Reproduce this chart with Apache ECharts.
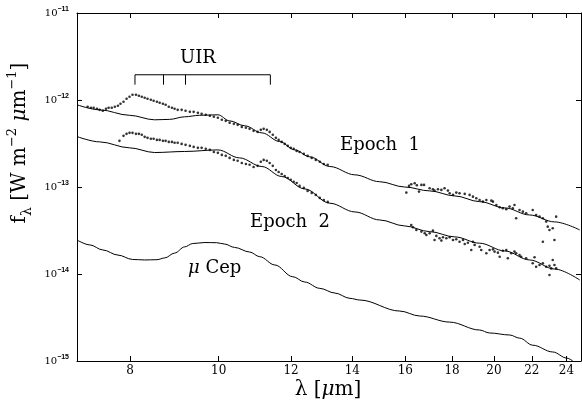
<!DOCTYPE html>
<html>
<head>
<meta charset="utf-8">
<script src="https://cdn.jsdelivr.net/npm/echarts@6.0.0/dist/echarts.min.js"></script>
<style>
  html, body { margin: 0; padding: 0; background: #fff; }
  #chart { width: 582px; height: 400px; }
</style>
</head>
<body>
<div id="chart"></div>
<script>
// wavelength [um] / flux [W m-2 um-1]
const xTicks = [8, 10, 12, 14, 16, 18, 20, 22, 24]
const yDecades = [1e-15, 1e-14, 1e-13, 1e-12, 1e-11]

const epoch1Model = [
  [7.0, 8.81e-13], [7.41, 7.71e-13], [7.99, 6.67e-13], [8.51, 5.92e-13], [8.84, 5.99e-13],
  [9.18, 6.41e-13], [9.53, 6.67e-13], [9.98, 6.76e-13], [10.28, 5.76e-13], [10.68, 5.05e-13],
  [11.15, 4.19e-13], [11.66, 3.33e-13], [12.11, 2.67e-13], [12.58, 2.22e-13], [13.23, 1.72e-13],
  [14.09, 1.38e-13], [15.0, 1.15e-13], [15.97, 1.00e-13], [17.01, 9.02e-14], [18.12, 7.90e-14],
  [19.29, 6.79e-14], [20.55, 5.75e-14], [21.88, 4.77e-14], [23.3, 3.97e-14], [24.82, 3.21e-14]
]

const epoch2Model = [
  [7.0, 3.80e-13], [7.41, 3.30e-13], [7.99, 2.82e-13], [8.51, 2.49e-13], [9.18, 2.56e-13],
  [9.98, 2.67e-13], [10.54, 2.16e-13], [11.15, 1.72e-13], [11.72, 1.32e-13], [12.42, 9.51e-14],
  [13.23, 6.51e-14], [14.09, 5.17e-14], [15.0, 4.18e-14], [15.97, 3.57e-14], [17.01, 3.07e-14],
  [18.12, 2.67e-14], [19.29, 2.26e-14], [20.55, 1.84e-14], [21.88, 1.45e-14], [23.3, 1.14e-14],
  [24.82, 8.53e-15]
]

const muCep = [
  [7.0, 2.46e-14], [7.23, 2.16e-14], [7.47, 1.89e-14], [7.76, 1.65e-14], [8.05, 1.47e-14],
  [8.30, 1.45e-14], [8.56, 1.46e-14], [8.73, 1.53e-14], [8.95, 1.74e-14], [9.18, 2.05e-14],
  [9.37, 2.24e-14], [9.66, 2.30e-14], [9.95, 2.29e-14], [10.15, 2.21e-14], [10.41, 2.02e-14],
  [10.81, 1.79e-14], [11.09, 1.58e-14], [11.52, 1.27e-14], [12.05, 9.31e-15], [12.42, 8.09e-15],
  [12.90, 6.84e-15], [13.40, 6.04e-15], [13.92, 5.25e-15], [14.27, 5.02e-15], [15.78, 3.75e-15],
  [16.59, 3.29e-15], [17.89, 2.80e-15], [19.29, 2.27e-15], [19.78, 2.10e-15], [20.81, 1.99e-15],
  [21.34, 1.83e-15], [22.05, 1.52e-15], [23.19, 1.27e-15], [24.03, 1.08e-15], [24.39, 1.0e-15]
]

const epoch1Short = [
  [7.19, 8.35e-13], [7.25, 8.13e-13], [7.30, 8.13e-13], [7.36, 7.92e-13], [7.41, 7.71e-13],
  [7.47, 7.51e-13], [7.53, 7.92e-13], [7.58, 8.13e-13], [7.64, 8.13e-13], [7.70, 8.35e-13],
  [7.76, 8.58e-13], [7.81, 9.04e-13], [7.87, 9.53e-13], [7.93, 1.032e-12], [7.99, 1.088e-12],
  [8.05, 1.148e-12], [8.12, 1.148e-12], [8.18, 1.118e-12], [8.24, 1.088e-12], [8.30, 1.060e-12],
  [8.36, 1.032e-12], [8.43, 1.005e-12], [8.49, 9.79e-13], [8.56, 9.53e-13], [8.62, 9.28e-13],
  [8.69, 9.04e-13], [8.75, 8.81e-13], [8.82, 8.35e-13], [8.89, 8.13e-13], [8.95, 7.92e-13],
  [9.02, 7.71e-13], [9.11, 7.71e-13], [9.20, 7.51e-13], [9.30, 7.31e-13], [9.39, 7.31e-13],
  [9.49, 7.12e-13], [9.58, 6.94e-13], [9.68, 6.76e-13], [9.78, 6.58e-13], [9.88, 6.41e-13],
  [9.98, 6.24e-13], [10.08, 5.92e-13], [10.18, 5.76e-13], [10.28, 5.47e-13], [10.39, 5.32e-13],
  [10.49, 5.18e-13], [10.60, 4.91e-13], [10.71, 4.79e-13], [10.81, 4.66e-13], [10.92, 4.42e-13],
  [11.03, 4.30e-13], [11.12, 4.54e-13], [11.20, 4.66e-13], [11.29, 4.54e-13], [11.37, 4.30e-13],
  [11.46, 3.98e-13], [11.55, 3.67e-13], [11.63, 3.48e-13], [11.72, 3.30e-13], [11.81, 3.13e-13],
  [11.90, 2.97e-13], [11.99, 2.82e-13], [12.08, 2.75e-13], [12.17, 2.60e-13], [12.26, 2.53e-13],
  [12.39, 2.40e-13], [12.51, 2.28e-13], [12.64, 2.16e-13], [12.77, 2.05e-13], [12.90, 1.95e-13],
  [13.03, 1.84e-13], [13.16, 1.80e-13]
]

const epoch1Long = [
  [16.04, 8.62e-14], [16.15, 1.030e-13], [16.24, 1.077e-13], [16.38, 1.106e-13], [16.47, 1.049e-13],
  [16.56, 8.85e-14], [16.66, 1.057e-13], [16.77, 1.057e-13], [17.01, 9.69e-14], [17.15, 9.43e-14],
  [17.22, 9.09e-14], [17.37, 9.43e-14], [17.52, 9.26e-14], [17.66, 9.69e-14], [17.81, 9.09e-14],
  [17.89, 8.49e-14], [18.04, 8.11e-14], [18.19, 8.62e-14], [18.34, 8.49e-14], [18.58, 8.33e-14],
  [18.81, 8.11e-14], [18.97, 7.75e-14], [19.13, 7.43e-14], [19.29, 7.10e-14], [19.45, 6.79e-14],
  [19.62, 7.10e-14], [19.87, 6.97e-14], [19.95, 6.79e-14], [20.12, 6.22e-14], [20.29, 5.86e-14],
  [20.45, 5.70e-14], [20.63, 5.55e-14], [20.80, 5.95e-14], [20.97, 5.70e-14], [21.06, 6.22e-14],
  [21.15, 4.38e-14], [21.33, 5.45e-14], [21.51, 5.21e-14], [21.69, 4.99e-14], [22.05, 5.45e-14],
  [22.24, 4.77e-14], [22.43, 4.56e-14], [22.62, 4.38e-14], [22.81, 4.00e-14], [22.90, 3.50e-14],
  [23.00, 3.21e-14], [23.19, 3.36e-14], [23.39, 4.56e-14], [22.62, 2.35e-14], [23.29, 2.46e-14]
]

const epoch2Short = [
  [7.79, 3.39e-13], [7.87, 3.87e-13], [7.93, 4.08e-13], [7.99, 4.19e-13], [8.05, 4.19e-13],
  [8.12, 4.08e-13], [8.18, 4.08e-13], [8.24, 3.98e-13], [8.30, 3.77e-13], [8.36, 3.67e-13],
  [8.43, 3.58e-13], [8.49, 3.58e-13], [8.56, 3.48e-13], [8.62, 3.48e-13], [8.69, 3.39e-13],
  [8.75, 3.39e-13], [8.82, 3.30e-13], [8.89, 3.30e-13], [8.95, 3.22e-13], [9.02, 3.22e-13],
  [9.11, 3.13e-13], [9.20, 3.05e-13], [9.30, 2.97e-13], [9.39, 2.89e-13], [9.49, 2.82e-13],
  [9.58, 2.82e-13], [9.68, 2.75e-13], [9.78, 2.67e-13], [9.88, 2.53e-13], [9.98, 2.47e-13],
  [10.08, 2.34e-13], [10.18, 2.28e-13], [10.28, 2.16e-13], [10.39, 2.05e-13], [10.49, 2.00e-13],
  [10.60, 1.89e-13], [10.71, 1.84e-13], [10.81, 1.80e-13], [10.92, 1.70e-13], [11.03, 1.75e-13],
  [11.12, 1.95e-13], [11.20, 2.05e-13], [11.29, 2.00e-13], [11.37, 1.89e-13], [11.46, 1.75e-13],
  [11.55, 1.57e-13], [11.63, 1.49e-13], [11.72, 1.41e-13], [11.81, 1.34e-13], [11.90, 1.27e-13],
  [11.99, 1.21e-13], [12.08, 1.15e-13], [12.17, 1.11e-13], [12.26, 1.03e-13], [12.39, 9.76e-14],
  [12.51, 9.02e-14], [12.64, 8.55e-14], [12.77, 8.11e-14], [12.90, 7.49e-14], [13.03, 7.10e-14],
  [13.16, 6.74e-14]
]

const epoch2Long = [
  [16.24, 3.66e-14], [16.31, 3.45e-14], [16.45, 3.21e-14], [16.66, 3.07e-14], [16.80, 2.94e-14],
  [16.87, 2.81e-14], [17.01, 2.94e-14], [17.15, 3.15e-14], [17.22, 2.46e-14], [17.30, 2.74e-14],
  [17.44, 2.58e-14], [17.52, 2.42e-14], [17.59, 2.64e-14], [17.74, 2.58e-14], [17.89, 2.64e-14],
  [18.04, 2.46e-14], [18.19, 2.51e-14], [18.34, 2.35e-14], [18.50, 2.46e-14], [18.58, 2.21e-14],
  [18.73, 2.29e-14], [18.89, 1.89e-14], [18.97, 2.35e-14], [19.05, 2.16e-14], [19.29, 2.06e-14],
  [19.37, 1.89e-14], [19.62, 1.73e-14], [19.78, 1.89e-14], [19.95, 1.92e-14], [20.03, 1.81e-14],
  [20.20, 1.76e-14], [20.29, 1.58e-14], [20.45, 1.85e-14], [20.63, 1.89e-14], [20.71, 1.52e-14],
  [20.89, 1.73e-14], [21.06, 1.81e-14], [21.15, 1.73e-14], [21.33, 1.65e-14], [21.42, 1.58e-14],
  [21.69, 1.52e-14], [22.05, 1.33e-14], [22.15, 1.56e-14], [22.24, 1.21e-14], [22.43, 1.27e-14],
  [22.62, 1.33e-14], [22.81, 1.21e-14], [23.00, 1.24e-14], [23.10, 1.16e-14], [23.19, 1.45e-14],
  [23.29, 1.27e-14], [23.39, 1.16e-14], [23.00, 9.74e-15]
]

// UIR bracket: feature wavelengths, bar level, foot level
const uirFeatures = [8.1, 8.69, 9.2, 11.39]
const uirTop = 1.95e-12
const uirFoot = 1.5e-12

const serif = '"DejaVu Serif", "Liberation Serif", serif'

const chart = echarts.init(document.getElementById('chart'))

const lineSeries = (data) => ({
  type: 'line',
  data: data,
  showSymbol: false,
  smooth: 0.35,
  smoothMonotone: 'x',
  silent: true,
  lineStyle: { color: '#000', width: 1 }
})

const dotSeries = (data) => ({
  type: 'scatter',
  data: data,
  symbol: 'circle',
  symbolSize: 2.6,
  silent: true,
  itemStyle: { color: '#000' }
})

const xAxisBase = {
  type: 'log',
  logBase: 10,
  min: 7,
  max: 24.9,
  splitLine: { show: false },
  axisLine: { lineStyle: { color: '#000', width: 1 } },
  axisTick: { inside: true, length: 5, customValues: xTicks, lineStyle: { color: '#000' } }
}

const yAxisBase = {
  type: 'log',
  logBase: 10,
  min: 1e-15,
  max: 1e-11,
  splitLine: { show: false },
  axisLine: { show: true, lineStyle: { color: '#000', width: 1 } },
  axisTick: { show: true, inside: true, length: 5, lineStyle: { color: '#000' } }
}

const option = {
  animation: false,
  backgroundColor: '#fff',
  grid: { left: 77, right: 1, top: 13, bottom: 39 },
  xAxis: [
    Object.assign({}, xAxisBase, {
      position: 'bottom',
      axisLabel: {
        customValues: xTicks,
        margin: 4,
        color: '#000',
        fontFamily: serif,
        fontSize: 12
      }
    }),
    Object.assign({}, xAxisBase, { position: 'top', axisLabel: { show: false } })
  ],
  yAxis: [
    Object.assign({}, yAxisBase, {
      position: 'left',
      axisLabel: {
        margin: 8,
        color: '#000',
        fontFamily: serif,
        formatter: (v) => '10{e|' + String(Math.round(Math.log10(v))).replace('-', '−') + '}',
        rich: {
          e: { fontSize: 7, fontWeight: 'bold', fontFamily: 'Liberation Sans', verticalAlign: 'top', lineHeight: 8 }
        },
        fontSize: 10,
        lineHeight: 14
      }
    }),
    Object.assign({}, yAxisBase, { position: 'right', axisLabel: { show: false } })
  ],
  series: [
    lineSeries(epoch1Model),
    lineSeries(epoch2Model),
    lineSeries(muCep),
    dotSeries(epoch1Short),
    dotSeries(epoch1Long),
    dotSeries(epoch2Short),
    dotSeries(epoch2Long),
    {
      type: 'line',
      silent: true,
      showSymbol: false,
      lineStyle: { color: '#000', width: 1 },
      data: [
        [uirFeatures[0], uirFoot], [uirFeatures[0], uirTop],
        [uirFeatures[3], uirTop], [uirFeatures[3], uirFoot]
      ],
      markLine: {
        silent: true,
        symbol: 'none',
        label: { show: false },
        lineStyle: { color: '#000', width: 1, type: 'solid' },
        data: uirFeatures.slice(1, 3).map((w) => [{ coord: [w, uirTop] }, { coord: [w, uirFoot] }])
      }
    }
  ],
  graphic: [
    { type: 'text', x: 198, y: 58, style: { text: 'UIR', font: '18px ' + serif, fill: '#000', align: 'center', verticalAlign: 'middle' } },
    { type: 'text', x: 340, y: 145, style: { text: 'Epoch  1', font: '18px ' + serif, fill: '#000', align: 'left', verticalAlign: 'middle' } },
    { type: 'text', x: 250, y: 222, style: { text: 'Epoch  2', font: '18px ' + serif, fill: '#000', align: 'left', verticalAlign: 'middle' } },
    {
      type: 'text', x: 188, y: 268,
      style: {
        text: '{i|μ} Cep', align: 'left', verticalAlign: 'middle', fill: '#000',
        font: '18px ' + serif,
        rich: { i: { fontStyle: 'italic', fontFamily: serif, fontSize: 18 } }
      }
    },
    {
      type: 'text', x: 328, y: 390,
      style: {
        text: 'λ [{i|μ}m]', align: 'center', verticalAlign: 'middle', fill: '#000',
        font: '20px ' + serif,
        rich: { i: { fontStyle: 'italic', fontFamily: serif, fontSize: 20 } }
      }
    },
    {
      type: 'text', x: 20, y: 143, rotation: Math.PI / 2,
      style: {
        text: '{n|f}{s|λ}{n| [W m}{p|−2}{n| }{i|μ}{n|m}{p|−1}{n|]}',
        align: 'center', verticalAlign: 'middle', fill: '#000',
        rich: {
          n: { fontFamily: serif, fontSize: 20, lineHeight: 28 },
          i: { fontFamily: serif, fontSize: 20, lineHeight: 28, fontStyle: 'italic' },
          s: { fontFamily: serif, fontSize: 14, lineHeight: 14, verticalAlign: 'bottom' },
          p: { fontFamily: serif, fontSize: 13, lineHeight: 13, verticalAlign: 'top' }
        }
      }
    }
  ]
}

chart.setOption(option)
</script>
</body>
</html>
